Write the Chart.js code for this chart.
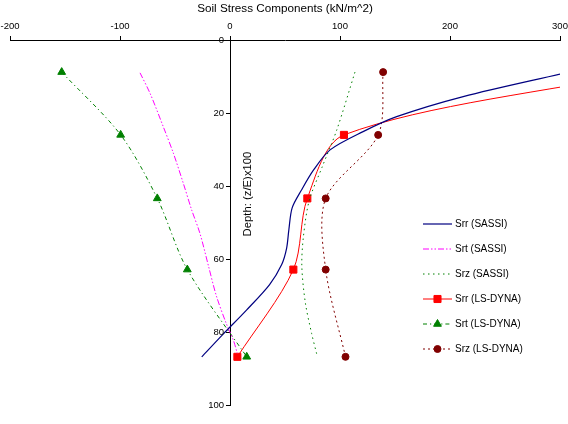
<!DOCTYPE html>
<html><head><meta charset="utf-8">
<script src="https://cdn.jsdelivr.net/npm/chart.js@4/dist/chart.umd.min.js"></script>
<style>html,body{margin:0;padding:0;background:#fff}#wrap{width:568px;height:424px}</style>
</head><body><div id="wrap"><canvas id="c" width="568" height="424"></canvas></div>
<script>
// ---- data ----
const xTicks = [-200, -100, 0, 100, 200, 300];
const yTicks = [0, 20, 40, 60, 80, 100];

const depthSrrSASSI = [9.0, 15.5, 21.0, 25.1, 30.1, 35.6, 41.1, 46.0, 52.0, 57.0, 61.5, 67.0, 74.0, 80.5, 86.8];
const srrSASSI      = [305, 212, 151.5, 121, 91, 76, 65, 56.5, 53.5, 51.5, 47, 36, 15, -6, -25.7];

const depthSrtSASSI = [9.0, 14.6, 23.8, 31.0, 39.3, 46.6, 53.0, 62.0, 70.0, 77.6, 82.2, 85.8];
const srtSASSI      = [-81.8, -72.7, -60.6, -51.5, -42.4, -34.8, -27.3, -19.5, -12.5, -3.5, 3.0, 6.6];

const depthSrzSASSI = [8.8, 24.7, 35.0, 44.0, 54.0, 62.0, 72.0, 80.4, 86.0];
const srzSASSI      = [113.6, 97, 83.5, 72, 66.7, 65.3, 68.5, 74.2, 78.8];

const depthLSDYNA = [8.8, 26.0, 43.4, 62.9, 86.8];
const srrLSDYNA   = [375, 103.6, 70.3, 57.6, 6.7];
const srtLSDYNA   = [-153, -99.4, -66.1, -38.8, 15.2];
const srzLSDYNA   = [139.2, 134.7, 87, 87, 105];

const seriesNames = ['Srr (SASSI)', 'Srt (SASSI)', 'Srz (SASSI)', 'Srr (LS-DYNA)', 'Srt (LS-DYNA)', 'Srz (LS-DYNA)'];
const xTitle = 'Soil Stress Components (kN/m^2)';
const yTitle = 'Depth: (z/E)x100';

// ---- build ----
const pts = (xs, ds) => xs.map((v, i) => ({x: v, y: ds[i]}));
const FONT = '"Liberation Sans", Arial, sans-serif';

const datasets = [
  {label: seriesNames[0], data: pts(srrSASSI, depthSrrSASSI), borderColor: '#000080', borderWidth: 1.2, borderDash: [], pointRadius: 0},
  {label: seriesNames[1], data: pts(srtSASSI, depthSrtSASSI), borderColor: '#FF00FF', borderWidth: 1, borderDash: [6, 2, 1.5, 2, 1.5, 2], pointRadius: 0},
  {label: seriesNames[2], data: pts(srzSASSI, depthSrzSASSI), borderColor: '#008000', borderWidth: 1, borderDash: [1.5, 3.5], pointRadius: 0},
  {label: seriesNames[3], data: pts(srrLSDYNA, depthLSDYNA), borderColor: '#FF0000', backgroundColor: '#FF0000', borderWidth: 1, borderDash: [], pointStyle: 'rect', pointRadius: 5, pointBorderWidth: 1},
  {label: seriesNames[4], data: pts(srtLSDYNA, depthLSDYNA), borderColor: '#008000', backgroundColor: '#008000', borderWidth: 1, borderDash: [4, 3, 1.2, 3], pointStyle: 'triangle', pointRadius: 4.5, pointBorderWidth: 1},
  {label: seriesNames[5], data: pts(srzLSDYNA, depthLSDYNA), borderColor: '#800000', backgroundColor: '#800000', borderWidth: 1, borderDash: [2, 3], pointStyle: 'circle', pointRadius: 3.5, pointBorderWidth: 1}
];
datasets.forEach(d => { d.showLine = true; d.tension = 0.3; d.fill = false; d.pointBorderColor = d.borderColor; d.pointBackgroundColor = d.backgroundColor || d.borderColor; });

const extras = {
  id: 'extras',
  afterDraw(chart) {
    const ctx = chart.ctx;
    const xs = chart.scales.x, ys = chart.scales.y;
    const axisX = xs.getPixelForValue(0);
    // y tick labels (left of the axis line)
    ctx.save();
    ctx.font = '9.5px ' + FONT;
    ctx.fillStyle = '#000';
    ctx.textAlign = 'right';
    ctx.textBaseline = 'middle';
    yTicks.forEach(v => ctx.fillText(String(v), axisX - 6, ys.getPixelForValue(v)));
    ctx.restore();
    // y axis title
    ctx.save();
    ctx.translate(248, 194);
    ctx.rotate(-Math.PI / 2);
    ctx.font = '11.3px ' + FONT;
    ctx.fillStyle = '#000';
    ctx.textAlign = 'center';
    ctx.textBaseline = 'middle';
    ctx.fillText(yTitle, 0, 0);
    ctx.restore();
    // legend
    chart.data.datasets.forEach((ds, i) => {
      const y = 224 + 25 * i;
      ctx.save();
      ctx.strokeStyle = ds.borderColor;
      ctx.lineWidth = ds.borderWidth;
      ctx.setLineDash(ds.borderDash || []);
      ctx.beginPath();
      ctx.moveTo(423, y);
      ctx.lineTo(452, y);
      ctx.stroke();
      ctx.setLineDash([]);
      if (ds.pointRadius > 0) {
        ctx.fillStyle = ds.backgroundColor;
        ctx.strokeStyle = ds.borderColor;
        ctx.lineWidth = 1;
        Chart.helpers.drawPoint(ctx, {pointStyle: ds.pointStyle, radius: ds.pointRadius, borderWidth: 1, rotation: 0}, 437.5, y);
      }
      ctx.font = '10px ' + FONT;
      ctx.fillStyle = '#000';
      ctx.textAlign = 'left';
      ctx.textBaseline = 'middle';
      ctx.fillText(ds.label, 455, y);
      ctx.restore();
    });
  }
};

new Chart(document.getElementById('c'), {
  type: 'scatter',
  data: {datasets},
  options: {
    responsive: false,
    animation: false,
    devicePixelRatio: 1,
    layout: {padding: {left: 10, right: 8, top: 0, bottom: 19}},
    plugins: {legend: {display: false}, tooltip: {enabled: false}},
    scales: {
      x: {
        type: 'linear', position: 'top', min: -200, max: 300,
        afterBuildTicks: s => { s.ticks = xTicks.map(v => ({value: v})); },
        afterFit: s => { s.height = 40; s.paddingLeft = 0; s.paddingRight = 0; },
        ticks: {font: {family: FONT, size: 9.5}, color: '#000', padding: 4, maxRotation: 0, autoSkip: false},
        grid: {drawOnChartArea: false, drawTicks: true, tickLength: 4, color: '#000'},
        border: {display: true, color: '#000', width: 1},
        title: {display: true, text: xTitle, color: '#000', font: {family: FONT, size: 11.7}, padding: {top: 2, bottom: 0}}
      },
      y: {
        type: 'linear', position: {x: 0}, reverse: true, min: 0, max: 100,
        afterBuildTicks: s => { s.ticks = yTicks.map(v => ({value: v})); },
        ticks: {display: false},
        grid: {drawOnChartArea: false, drawTicks: true, tickLength: 4, color: '#000'},
        border: {display: true, color: '#000', width: 1}
      }
    }
  },
  plugins: [extras]
});
</script>
</body></html>
